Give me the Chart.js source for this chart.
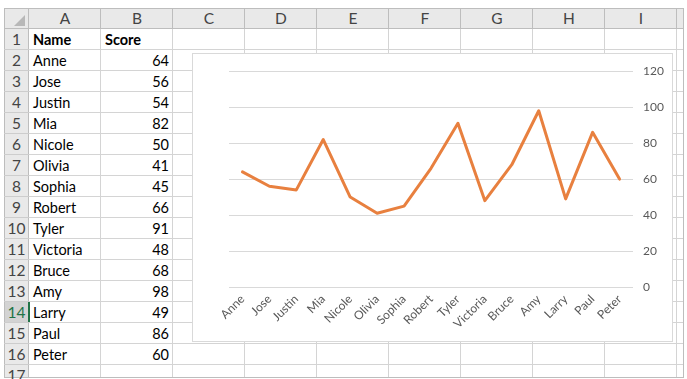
<!DOCTYPE html>
<html>
<head>
<meta charset="utf-8">
<script src="https://cdn.jsdelivr.net/npm/chart.js@4/dist/chart.umd.min.js"></script>
<style>
  html,body{margin:0;padding:0;background:#fff;}
  body{width:687px;height:379px;position:relative;overflow:hidden;font-family:"Lato","Liberation Sans",sans-serif;}
  .hl{position:absolute;height:1px;background:#D4D4D4;}
  .vl{position:absolute;width:1px;background:#D4D4D4;}
  .hdr{position:absolute;background:#E9E9E9;}
  .hdrline{position:absolute;background:#BDBDBD;}
  .txt{position:absolute;font-size:14.5px;color:#000;line-height:21px;height:21px;white-space:nowrap;}
  .htxt{position:absolute;font-size:15.5px;color:#444;text-align:center;line-height:21px;}
  #chartBox{position:absolute;left:192px;top:53px;width:479px;height:287px;border:1px solid #D9D9D9;background:#fff;}
  #chartBox canvas{position:absolute;left:0;top:0;}
</style>
</head>
<body>
<div id="sheet"></div>
<div id="chartBox"><canvas id="c" width="479" height="287"></canvas></div>
<script>
// ---- data ----
const names = ["Anne","Jose","Justin","Mia","Nicole","Olivia","Sophia","Robert","Tyler","Victoria","Bruce","Amy","Larry","Paul","Peter"];
const scores = [64,56,54,82,50,41,45,66,91,48,68,98,49,86,60];
const headerName = "Name";
const headerScore = "Score";
const colLetters = ["A","B","C","D","E","F","G","H","I"];
const yTicks = [0,20,40,60,80,100,120];

// ---- spreadsheet grid ----
const sheet = document.getElementById('sheet');
function el(cls, css, text){
  const d=document.createElement('div'); d.className=cls;
  Object.assign(d.style, css); if(text!==undefined) d.textContent=text;
  sheet.appendChild(d); return d;
}
const colX=[29,101,173,245,317,389,461,533,605,677];
const rowTop=29, rowH=21, nRows=17, left=4, right=683, bottom=377, hdrTop=8;
el('hdr',{left:left+'px',top:hdrTop+'px',width:(right-left)+'px',height:(rowTop-hdrTop)+'px'});
el('hdr',{left:left+'px',top:rowTop+'px',width:(colX[0]-left)+'px',height:(bottom-rowTop)+'px'});
el('hdr',{left:left+'px',top:(rowTop+13*rowH)+'px',width:(colX[0]-left)+'px',height:rowH+'px',background:'#D3D3D3'});
el('',{position:'absolute',left:'14px',top:'15px',width:'0',height:'0',borderLeft:'11px solid transparent',borderBottom:'11px solid #B8B8B8'});
for(let r=1;r<=nRows;r++){
  el('hl',{left:colX[0]+'px',top:(rowTop+r*rowH-1)+'px',width:(right-colX[0])+'px'});
}
for(let i=1;i<colX.length;i++){
  el('vl',{left:(colX[i]-1)+'px',top:rowTop+'px',height:(bottom-rowTop)+'px'});
}
el('hdrline',{left:left+'px',top:hdrTop+'px',width:(right-left)+'px',height:'1px'});
el('hdrline',{left:left+'px',top:(rowTop-1)+'px',width:(right-left)+'px',height:'1px'});
el('hdrline',{left:left+'px',top:hdrTop+'px',width:'1px',height:(bottom-hdrTop)+'px'});
el('hdrline',{left:(colX[0]-1)+'px',top:hdrTop+'px',width:'1px',height:(bottom-hdrTop)+'px'});
el('hdrline',{left:right+'px',top:hdrTop+'px',width:'1px',height:(bottom-hdrTop)+'px'});
el('hdrline',{left:left+'px',top:bottom+'px',width:(right-left+1)+'px',height:'1px'});
for(let i=1;i<colX.length;i++){
  el('hdrline',{left:(colX[i]-1)+'px',top:hdrTop+'px',width:'1px',height:(rowTop-hdrTop)+'px'});
}
for(let r=1;r<nRows;r++){
  el('hdrline',{left:left+'px',top:(rowTop+r*rowH-1)+'px',width:(colX[0]-left)+'px',height:'1px',background:'#CDCDCD'});
}
colLetters.forEach((L,i)=>{
  el('htxt',{left:colX[i]+'px',width:(colX[i+1]-colX[i])+'px',top:hdrTop+'px',height:(rowTop-hdrTop)+'px',lineHeight:(rowTop-hdrTop)+'px'},L);
});
for(let r=1;r<=nRows;r++){
  const t=el('htxt',{left:left+'px',width:(colX[0]-left)+'px',top:(rowTop+(r-1)*rowH)+'px',height:rowH+'px'},String(r));
  if(r===14) t.style.color='#217346';
}
el('',{position:'absolute',left:(colX[0]-1)+'px',top:(rowTop+13*rowH)+'px',width:'2px',height:(rowH-1)+'px',background:'#217346'});
el('txt',{left:(colX[0]+4)+'px',top:rowTop+'px',fontWeight:'bold'},headerName);
el('txt',{left:(colX[1]+4)+'px',top:rowTop+'px',fontWeight:'bold'},headerScore);
names.forEach((n,i)=>{
  const top=rowTop+(i+1)*rowH;
  el('txt',{left:(colX[0]+4)+'px',top:top+'px'},n);
  el('txt',{left:colX[1]+'px',width:(colX[2]-colX[1]-4)+'px',textAlign:'right',top:top+'px'},String(scores[i]));
});

// ---- chart ----
const tickFont={family:"Lato, 'Liberation Sans', sans-serif",size:12};
new Chart(document.getElementById('c'),{
  type:'line',
  data:{labels:names,datasets:[{data:scores,borderColor:'#E8803F',borderWidth:3,pointRadius:0,tension:0,fill:false,borderCapStyle:'round',borderJoinStyle:'round'}]},
  options:{
    responsive:false,animation:false,
    plugins:{legend:{display:false},tooltip:{enabled:false}},
    layout:{padding:{left:36,top:13,right:0,bottom:0}},
    scales:{
      x:{offset:true,grid:{display:false,drawTicks:false},border:{display:false},
         ticks:{color:'#595959',font:tickFont,maxRotation:45,minRotation:45,padding:5,autoSkip:false},
         afterFit:s=>{s.height=54;}},
      y:{position:'right',min:0,max:120,
         afterBuildTicks:s=>{s.ticks=yTicks.map(v=>({value:v}));},
         grid:{color:'#D9D9D9',drawTicks:false},border:{display:false},
         ticks:{color:'#595959',font:tickFont,padding:10},
         afterFit:s=>{s.width=39;}}
    }
  }
});
</script>
</body>
</html>
